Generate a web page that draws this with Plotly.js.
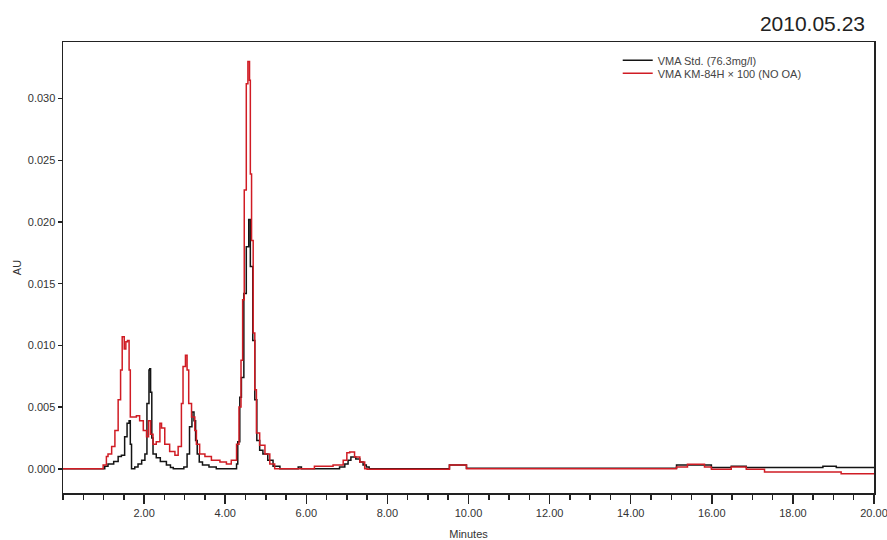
<!DOCTYPE html>
<html>
<head>
<meta charset="utf-8">
<script src="https://cdn.plot.ly/plotly-3.0.1.min.js"></script>
<style>
  html, body { margin: 0; padding: 0; background: #fff; overflow: hidden; }
  #chart { width: 887px; height: 540px; }
</style>
</head>
<body>
<div id="chart"></div>
<script>
// Chromatogram: VMA standard vs. KM-84H sample (x100), absorbance over run time

const stdName = 'VMA Std. (76.3mg/l)';
const stdTime = [0, 1.00, 1.03, 1.11, 1.25, 1.36, 1.44, 1.52, 1.58, 1.63, 1.66, 1.69, 1.77, 1.85, 1.94, 2.02, 2.07, 2.12, 2.14, 2.16, 2.19, 2.22, 2.30, 2.40, 2.55, 2.65, 2.72,
  2.98, 3.06, 3.12, 3.18, 3.23, 3.27, 3.31, 3.36, 3.44, 3.60, 3.78,
  4.28, 4.31, 4.36, 4.40, 4.46, 4.52, 4.58, 4.62, 4.68, 4.73, 4.78, 4.85, 4.93, 5.05, 5.18, 5.35,
  5.80, 5.88, 6.82, 6.95, 7.03, 7.10, 7.22, 7.32, 7.40, 7.48, 7.55,
  9.53, 9.95, 15.13, 15.99, 16.48, 16.85, 18.74, 19.07, 20.00];
const stdAU = [0, 0, 0.0002, 0.0004, 0.0006, 0.0010, 0.0011, 0.0026, 0.0037, 0.0039, 0.0020, 0, 0.00015, 0.0004, 0.0007, 0.0012, 0.0053, 0.0080, 0.0081, 0.0062, 0.0025, 0.0012, 0.0009, 0.0006, 0.0003, 0.0001, 0,
  0.00015, 0.0012, 0.0034, 0.0046, 0.0039, 0.0023, 0.0012, 0.00055, 0.0003, 0.00015, 0,
  0.0004, 0.0022, 0.0058, 0.0074, 0.0142, 0.0180, 0.0202, 0.0164, 0.0104, 0.0056, 0.0023, 0.0015, 0.0012, 0.0007, 0.0002, 0,
  0.00015, 0, 0.00015, 0.0004, 0.0007, 0.00095, 0.0008, 0.00055, 0.0003, 0.00015, 0,
  0.0003, 0.00005, 0.0003, 0.0001, 0.0002, 0.0001, 0.0002, 0.0001, 0.0001];

const smpName = 'VMA KM-84H \u00d7 100 (NO OA)';
const smpTime = [0, 0.99, 1.07, 1.11, 1.20, 1.28, 1.36, 1.42, 1.46, 1.51, 1.55, 1.59, 1.63, 1.66, 1.73, 1.81, 1.89, 1.98, 2.06, 2.11, 2.16, 2.22, 2.30, 2.39, 2.43, 2.51, 2.63, 2.76, 2.84, 2.92, 2.96, 3.02, 3.06, 3.10, 3.17, 3.25, 3.29, 3.37, 3.50, 3.66, 3.87, 4.03, 4.15,
  4.28, 4.34, 4.39, 4.43, 4.47, 4.52, 4.56, 4.60, 4.62, 4.65, 4.69, 4.73, 4.77, 4.85, 4.98, 5.10, 5.22,
  6.20, 6.66, 6.91, 7.00, 7.07, 7.19, 7.32, 7.44, 7.50,
  9.53, 9.95, 15.13, 15.40, 15.82, 15.99, 16.48, 16.85, 17.30, 19.19, 20.00];
const smpAU = [0, 0.0003, 0.0010, 0.0012, 0.0018, 0.0031, 0.0056, 0.0080, 0.0107, 0.0097, 0.0103, 0.0104, 0.0080, 0.0042, 0.0042, 0.0043, 0.0039, 0.0031, 0.0026, 0.0039, 0.0028, 0.0020, 0.0022, 0.0037, 0.0033, 0.0020, 0.0014, 0.0011, 0.0018, 0.0053, 0.0083, 0.0092, 0.0080, 0.0053, 0.0042, 0.0031, 0.0020, 0.0012, 0.0010, 0.0007, 0.00055, 0.0004, 0.0007,
  0.0020, 0.0050, 0.0088, 0.0137, 0.0226, 0.0312, 0.0330, 0.0315, 0.0239, 0.0185, 0.0110, 0.0064, 0.0029, 0.0019, 0.0012, 0.0004, 0,
  0.0002, 0.0003, 0.0007, 0.0013, 0.00136, 0.00095, 0.00055, 0, -0.00004,
  0.0003, 0, 0.00015, 0.00036, 0.00015, -0.00004, 0.00015, -0.00004, -0.00026, -0.0004, -0.0004];

const xTickVals = [2, 4, 6, 8, 10, 12, 14, 16, 18, 20];
const xTickText = ['2.00', '4.00', '6.00', '8.00', '10.00', '12.00', '14.00', '16.00', '18.00', '20.00'];
const yTickVals = [0, 0.005, 0.010, 0.015, 0.020, 0.025, 0.030];
const yTickText = ['0.000', '0.005', '0.010', '0.015', '0.020', '0.025', '0.030'];

const FONT = 'Liberation Sans, Arial, sans-serif';
const legendFont = { family: FONT, size: 11, color: '#444' };

const traces = [
  { x: stdTime, y: stdAU, name: stdName, type: 'scatter', mode: 'lines', legend: 'legend',
    line: { color: '#141414', width: 1.5, shape: 'hv' } },
  { x: smpTime, y: smpAU, name: smpName, type: 'scatter', mode: 'lines', legend: 'legend2',
    line: { color: '#d01c24', width: 1.5, shape: 'hv' } }
];

const layout = {
  width: 887, height: 540,
  margin: { l: 63, r: 13, t: 42, b: 47 },
  paper_bgcolor: '#fff', plot_bgcolor: '#fff',
  font: { family: FONT, size: 11, color: '#333' },
  title: {
    text: '2010.05.23',
    xref: 'container', yref: 'container',
    x: 865 / 887, xanchor: 'right',
    y: 1 - 24 / 540, yanchor: 'middle',
    font: { family: FONT, size: 21, color: '#222' }
  },
  showlegend: true,
  // one legend per series so the two rows sit close together
  legend: {
    x: 0.684, xanchor: 'left', y: 0.9916, yanchor: 'top',
    bgcolor: 'rgba(0,0,0,0)', borderwidth: 0, font: legendFont, itemwidth: 30
  },
  legend2: {
    x: 0.684, xanchor: 'left', y: 0.9627, yanchor: 'top',
    bgcolor: 'rgba(0,0,0,0)', borderwidth: 0, font: legendFont, itemwidth: 30
  },
  xaxis: {
    range: [0, 20],
    tickmode: 'array', tickvals: xTickVals, ticktext: xTickText,
    ticks: 'outside', ticklen: 9, tickwidth: 1.5, tickcolor: '#222',
    ticklabeloverflow: 'allow',
    minor: { ticks: 'outside', ticklen: 5, tickwidth: 1.5, tickcolor: '#222', tickmode: 'linear', tick0: 0, dtick: 0.5 },
    showline: true, linecolor: '#222', linewidth: 1.5, mirror: true,
    showgrid: false, zeroline: false,
    tickfont: { family: FONT, size: 11, color: '#333' },
    title: { text: 'Minutes', font: { family: FONT, size: 11, color: '#333' }, standoff: 12 }
  },
  yaxis: {
    range: [-0.00196, 0.03459],
    tickmode: 'array', tickvals: yTickVals, ticktext: yTickText,
    ticks: 'outside', ticklen: 4, tickwidth: 1.5, tickcolor: '#222',
    showline: true, linecolor: '#222', linewidth: 1.5, mirror: true,
    showgrid: false, zeroline: false,
    tickfont: { family: FONT, size: 11, color: '#333' },
    title: { text: 'AU', font: { family: FONT, size: 11, color: '#333' }, standoff: 4 }
  }
};

Plotly.newPlot('chart', traces, layout, { displayModeBar: false, staticPlot: true });
</script>
</body>
</html>
